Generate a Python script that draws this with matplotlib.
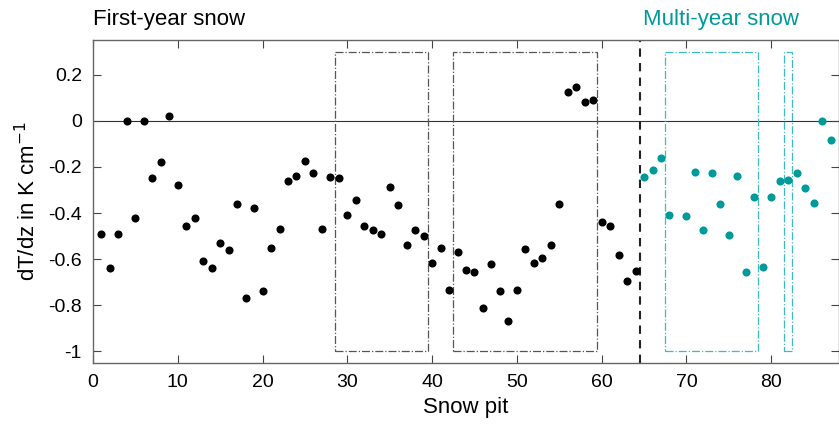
import matplotlib
matplotlib.use("Agg")
import matplotlib.pyplot as plt
from matplotlib.patches import Rectangle

plt.rcParams['font.family'] = ['Liberation Sans', 'DejaVu Sans']
plt.rcParams['axes.unicode_minus'] = False

# First-year snow pits
fy_pit = list(range(1, 65))
fy_val = [-0.49, -0.64, -0.49, 0.0, -0.42, 0.0, -0.25, -0.18, 0.02, -0.28,
          -0.455, -0.42, -0.61, -0.64, -0.53, -0.56, -0.36, -0.77, -0.38, -0.74,
          -0.55, -0.47, -0.26, -0.24, -0.175, -0.225, -0.47, -0.245, -0.25, -0.41,
          -0.345, -0.455, -0.475, -0.49, -0.285, -0.365, -0.54, -0.475, -0.50, -0.615,
          -0.55, -0.735, -0.57, -0.645, -0.655, -0.81, -0.62, -0.74, -0.87, -0.735,
          -0.555, -0.615, -0.595, -0.54, -0.36, 0.125, 0.145, 0.08, 0.09, -0.44,
          -0.455, -0.58, -0.695, -0.65]

# Multi-year snow pits
my_pit = [65, 66, 67, 68, 70, 71, 72, 73, 74, 75, 76, 77, 78, 79, 80, 81, 82, 83, 84, 85, 86, 87]
my_val = [-0.245, -0.215, -0.16, -0.41, -0.415, -0.22, -0.475, -0.225, -0.36, -0.495,
          -0.24, -0.655, -0.33, -0.635, -0.33, -0.26, -0.255, -0.225, -0.29, -0.355,
          0.0, -0.085]

# Boxes (x start, x end)
fy_boxes = [(28.5, 39.5), (42.5, 59.5)]
my_boxes = [(67.5, 78.5), (81.5, 82.5)]
box_y = (-1.0, 0.3)
divider = 64.5

xticks = [0, 10, 20, 30, 40, 50, 60, 70, 80]
yticks = [-1, -0.8, -0.6, -0.4, -0.2, 0, 0.2]
ytick_labels = ['-1', '-0.8', '-0.6', '-0.4', '-0.2', '0', '0.2']

teal = '#009a9a'
teal_box = '#3cbcc0'

fig = plt.figure(figsize=(8.39, 4.25), dpi=100)
ax = fig.add_axes([93/839, (425-363)/425, 746/839, (363-40)/425])

ax.axhline(0, color='#333333', lw=0.8, zorder=1)
for x0, x1 in fy_boxes:
    ax.add_patch(Rectangle((x0, box_y[0]), x1-x0, box_y[1]-box_y[0], fill=False,
                           ec='#555555', lw=0.9, ls='-.', zorder=2))
for x0, x1 in my_boxes:
    ax.add_patch(Rectangle((x0, box_y[0]), x1-x0, box_y[1]-box_y[0], fill=False,
                           ec=teal_box, lw=0.9, ls='-.', zorder=2))
ax.axvline(divider, color='#222222', lw=1.5, ls=(0, (4, 3)), zorder=2)

ax.scatter(fy_pit, fy_val, s=34, color='black', zorder=3, linewidths=0)
ax.scatter(my_pit, my_val, s=34, color=teal, zorder=3, linewidths=0)

ax.set_xlim(0, 88)
ax.set_ylim(-1.05, 0.35)
ax.set_xticks(xticks)
ax.set_xticklabels([str(t) for t in xticks])
ax.set_yticks(yticks)
ax.set_yticklabels(ytick_labels)
ax.tick_params(direction='in', top=True, right=True, labelsize=14, length=6,
               width=0.8, color='#444444', pad=8)
for s in ax.spines.values():
    s.set_color('#666666')
    s.set_linewidth(1.0)

ax.set_xlabel('Snow pit', fontsize=16, labelpad=4)
ax.set_ylabel('dT/dz in K cm$^{-1}$', fontsize=16, labelpad=6)

fig.text(93/839, 1 - 20/425, 'First-year snow', fontsize=16, color='black',
         va='center', ha='left')
fig.text(721/839, 1 - 20/425, 'Multi-year snow', fontsize=16, color=teal,
         va='center', ha='center')

fig.savefig('out.png', dpi=100)
